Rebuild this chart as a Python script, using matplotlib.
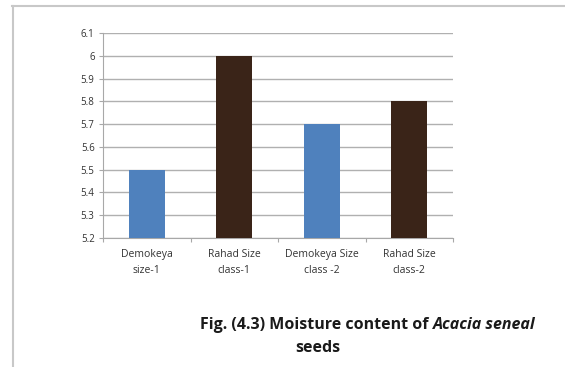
import matplotlib.pyplot as plt
import numpy as np
from matplotlib.lines import Line2D

# moisture content (%) of seed lots
categories = ['Demokeya\nsize-1', 'Rahad Size\nclass-1', 'Demokeya Size\nclass -2', 'Rahad Size\nclass-2']
moisture = [5.5, 6.0, 5.7, 5.8]
bar_colors = ['#4f81bd', '#3a2418', '#4f81bd', '#3a2418']
y_ticks = [5.2, 5.3, 5.4, 5.5, 5.6, 5.7, 5.8, 5.9, 6.0, 6.1]
y_labels = ['5.2', '5.3', '5.4', '5.5', '5.6', '5.7', '5.8', '5.9', '6', '6.1']

W, H = 565, 367
fig = plt.figure(figsize=(W / 100, H / 100), dpi=100)
fig.patch.set_facecolor('white')

# page frame (top and left rule)
fig.add_artist(Line2D([12 / W, 1], [1 - 6 / H, 1 - 6 / H], color='#c8c8c8', lw=1.5))
fig.add_artist(Line2D([13 / W, 13 / W], [0, 1 - 6 / H], color='#c8c8c8', lw=1.5))

ax = fig.add_axes([103 / W, 1 - 238 / H, 350 / W, 205 / H])
x = np.arange(len(categories))
ax.bar(x, moisture, width=0.41, color=bar_colors, zorder=3)

ax.set_ylim(5.2, 6.1)
ax.set_xlim(-0.5, len(categories) - 0.5)
ax.set_yticks(y_ticks)
ax.set_yticklabels(y_labels)
ax.set_xticks(x)
ax.set_xticklabels(categories, linespacing=1.6)
ax.set_xticks(np.arange(len(categories) + 1) - 0.5, minor=True)
ax.grid(axis='y', color='#b0b0b0', lw=1.0, zorder=0)

for s in ['top', 'right']:
    ax.spines[s].set_visible(False)
for s in ['left', 'bottom']:
    ax.spines[s].set_color('#a8a8a8')
    ax.spines[s].set_linewidth(0.8)

ax.tick_params(axis='y', labelsize=7, labelcolor='#333333', color='#a8a8a8', length=3, width=0.8, pad=3)
ax.tick_params(axis='x', which='major', length=0, labelsize=7.5, labelcolor='#333333', pad=8)
ax.tick_params(axis='x', which='minor', length=3, width=0.8, color='#a8a8a8')
for lab in ax.get_yticklabels() + ax.get_xticklabels():
    lab.set_fontfamily('Open Sans')

# caption with italic species name
cap_kw = dict(fontsize=11.5, fontweight='bold', color='#1a1a1a', family='Open Sans')
t1 = fig.text(200 / W, 1 - 325 / H, 'Fig. (4.3) Moisture content of ', va='center', ha='left', **cap_kw)
t2 = ax.annotate('Acacia seneal', xy=(1, 0), xycoords=t1, va='bottom', ha='left',
                 style='italic', annotation_clip=False, **cap_kw)
fig.text(318 / W, 1 - 348 / H, 'seeds', va='center', ha='center', **cap_kw)

fig.savefig('out.png', dpi=100)
